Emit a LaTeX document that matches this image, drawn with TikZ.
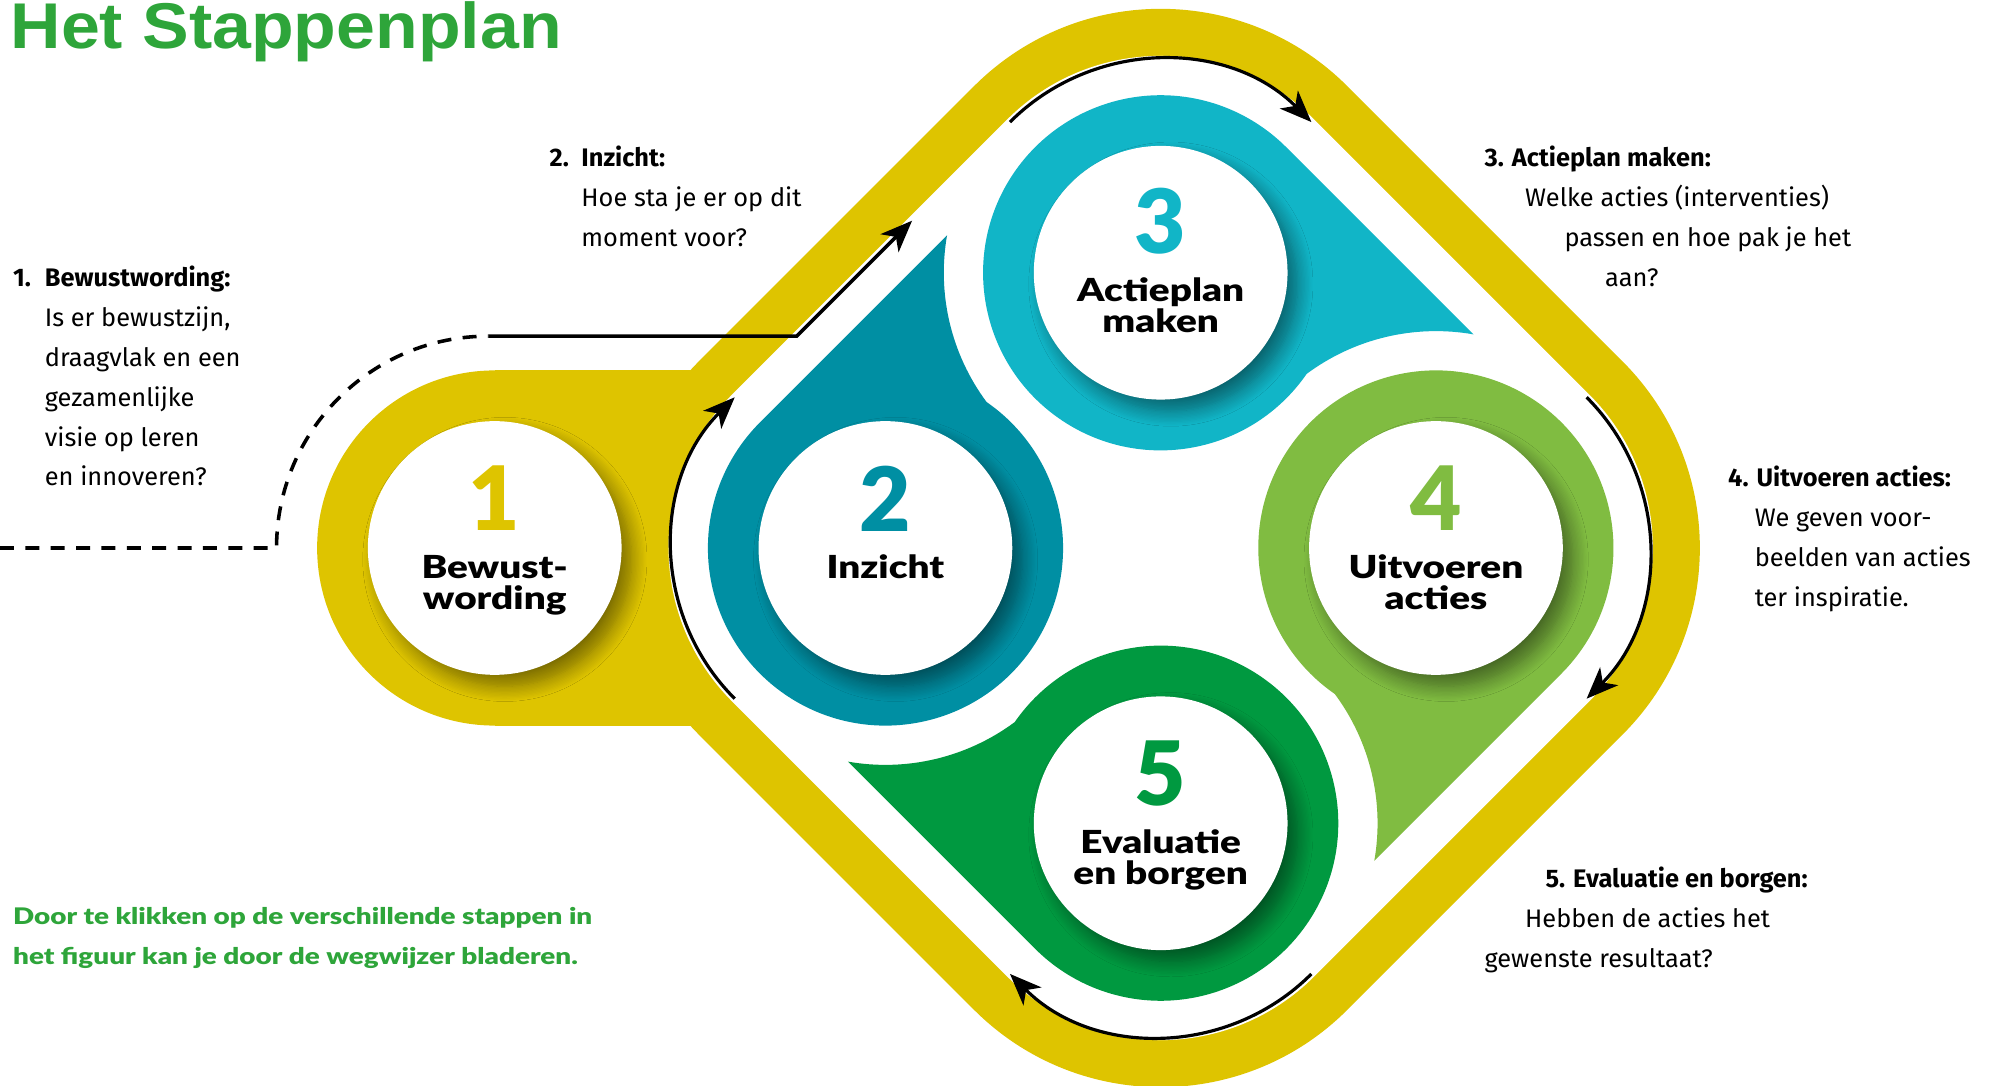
\documentclass[tikz,border=0pt]{standalone}
\usepackage{fontspec}
\setmainfont{Fira Sans}
\newfontfamily\heavyfont{Lato Black}
\newfontfamily\widefont{Lato Black}[FakeStretch=1.22]
\newfontfamily\titlefont{Liberation Sans}[FakeStretch=1.08]
\usetikzlibrary{arrows.meta,shadows.blur,calc}

\definecolor{stepyellow}{HTML}{DEC400}
\definecolor{stepteal}{HTML}{008FA3}
\definecolor{stepcyan}{HTML}{11B5C7}
\definecolor{steplime}{HTML}{80BC41}
\definecolor{stepgreen}{HTML}{009940}
\definecolor{titlegreen}{HTML}{2EA53A}

\tikzset{every picture/.style={line width=0.75pt}}
\tikzset{
  stepdisc/.style={circle, fill=white, minimum size=200pt, inner sep=0pt,
    blur shadow={shadow xshift=8pt, shadow yshift=-9pt, shadow blur radius=12pt, shadow blur steps=12, shadow opacity=45}},
  steplabel/.style={anchor=north, align=center, inner sep=0pt, font=\widefont\fontsize{25}{24.5}\selectfont},
  flow/.style={line width=2.5pt, -{Stealth[length=25pt,width=20pt,inset=7pt]}},
  lead/.style={line width=2.8pt},
  blurb/.style={anchor=north west, align=left, inner sep=0pt, font=\fontsize{20}{31.5}\selectfont},
}
\newcommand{\stepnum}[2]{{\heavyfont\color{#1}\fontsize{70}{70}\selectfont #2}}
\newcommand{\stephead}[2]{\makebox[25pt][l]{\textbf{#1}}\textbf{#2}}

\begin{document}
\begin{tikzpicture}[x=1pt,y=1pt,yscale=-1,xscale=1]
\useasboundingbox (0,0) rectangle (1568,856);

% centres of the five steps
\coordinate (c1) at (390,432);
\coordinate (c2) at (698,432);
\coordinate (c3) at (915,215);
\coordinate (c4) at (1132,432);
\coordinate (c5) at (915,649);

% yellow frame with the tab for step 1
\fill[stepyellow, rounded corners=208pt] (915,-79.2) -- (1426.2,432) -- (915,943.2) -- (403.8,432) -- cycle;
\fill[stepyellow] (390,292) rectangle (600,572);
\fill[stepyellow] (c1) circle (140);
\fill[white, rounded corners=171pt] (915,-26.8) -- (1373.8,432) -- (915,890.8) -- (456.2,432) -- cycle;

% drop shapes, one per step, turned round the middle
\begin{scope}[shift={(915,432)}]
\foreach \ang/\col in {0/stepcyan,90/steplime,180/stepgreen,270/stepteal}
  \fill[\col, rotate=\ang] (99,-316) -- (246.6,-168.4) arc[start angle=-80.04, end angle=-126.6, radius=171] arc[start angle=34.7, end angle=315, radius=140] -- cycle;
\end{scope}

% arrows along the frame
\coordinate (a2) at ($(c2)+(135:168)$);
\coordinate (a3) at ($(c3)+(225:168)$);
\coordinate (a4) at ($(c4)+(-45:168)$);
\coordinate (a5) at ($(c5)+(45:168)$);
\draw[flow] (a2) arc[start angle=135, end angle=225, radius=168];
\draw[flow] (a3) arc[start angle=225, end angle=315, radius=168];
\draw[flow] (a4) arc[start angle=-45, end angle=45, radius=168];
\draw[flow] (a5) arc[start angle=45, end angle=135, radius=168];

% way in from step 1
\coordinate (in1) at (0,432);
\coordinate (bend1) at (218,432);
\coordinate (k2) at (628,265);
\coordinate (k3) at (719,174);
\draw[lead, dash pattern=on 11pt off 9pt] (in1) -- (bend1) arc[start angle=180, end angle=270, radius=167] coordinate (k1);
\draw[lead, -{Stealth[length=25pt,width=20pt,inset=7pt]}] (k1) -- (k2) -- (k3);

% step discs
\node[stepdisc] (s1) at (c1) {};
\node[stepdisc] (s2) at (c2) {};
\node[stepdisc] (s3) at (c3) {};
\node[stepdisc] (s4) at (c4) {};
\node[stepdisc] (s5) at (c5) {};
\node[steplabel] (l1) at ($(s1)+(0,-65)$) {\stepnum{stepyellow}{1}\\[13pt]Bewust-\\wording};
\node[steplabel] (l2) at ($(s2)+(0,-65)$) {\stepnum{stepteal}{2}\\[13pt]Inzicht};
\node[steplabel] (l3) at ($(s3)+(0,-67)$) {\stepnum{stepcyan}{3}\\[13pt]Actieplan\\maken};
\node[steplabel] (l4) at ($(s4)+(0,-65)$) {\stepnum{steplime}{4}\\[13pt]Uitvoeren\\acties};
\node[steplabel] (l5) at ($(s5)+(0,-65)$) {\stepnum{stepgreen}{5}\\[13pt]Evaluatie\\en borgen};

% explanation per step
\node[blurb] (b1) at (10,209) {\stephead{1.}{Bewustwording:}\\\hspace*{25pt}Is er bewustzijn,\\\hspace*{25pt}draagvlak en een\\\hspace*{25pt}gezamenlijke\\\hspace*{25pt}visie op leren\\\hspace*{25pt}en innoveren?};
\node[blurb] (b2) at (433,115) {\stephead{2.}{Inzicht:}\\\hspace*{25pt}Hoe sta je er op dit\\\hspace*{25pt}moment voor?};
\node[blurb] (b3) at (1170,115) {\textbf{3. Actieplan maken:}\\\hspace*{32pt}Welke acties (interventies)\\\hspace*{63pt}passen en hoe pak je het\\\hspace*{95pt}aan?};
\node[blurb] (b4) at (1362,367) {\textbf{4. Uitvoeren acties:}\\\hspace*{21pt}We geven voor-\\\hspace*{21pt}beelden van acties\\\hspace*{21pt}ter inspiratie.};
\node[blurb] (b5) at (1170,683) {\hspace*{48pt}\textbf{5. Evaluatie en borgen:}\\\hspace*{32pt}Hebben de acties het\\gewenste resultaat?};

% title and note
\node[anchor=base west, inner sep=0pt, text=titlegreen, font=\titlefont\bfseries\fontsize{51}{51}\selectfont] (title) at (8,38) {Het Stappenplan};
\node[anchor=north west, align=left, inner sep=0pt, text=titlegreen, font=\widefont\fontsize{18}{31.5}\selectfont] (note) at (10,715) {Door te klikken op de verschillende stappen in\\het figuur kan je door de wegwijzer bladeren.};

\end{tikzpicture}
\end{document}
